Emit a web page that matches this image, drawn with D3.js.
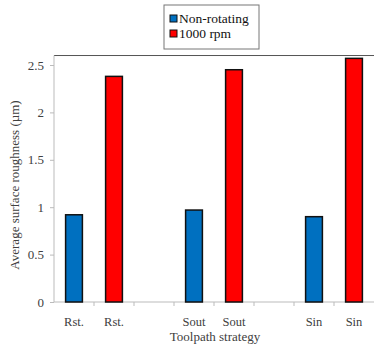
<!DOCTYPE html>
<html>
<head>
<meta charset="utf-8">
<script src="https://cdn.jsdelivr.net/npm/d3@7"></script>
<style>
  body { margin: 0; background: #fff; }
  svg text { font-family: "Liberation Serif", "DejaVu Serif", serif !important; fill: #404040; }
</style>
</head>
<body>
<div id="chart"></div>
<script>
// toolpath strategies and the two series
var strategies = ["Rst.", "Sout", "Sin"]
var nonRotating = [0.92, 0.97, 0.90]
var rpm1000 = [2.38, 2.45, 2.57]
var yTicks = [0, 0.5, 1, 1.5, 2, 2.5]
var seriesNames = ["Non-rotating", "1000 rpm"]
var colors = ["#0070C0", "#FF0000"]

var width = 374, height = 345
var margin = {top: 55, right: 0, bottom: 43, left: 54}
var serif = "'Liberation Serif', 'DejaVu Serif', serif"

var svg = d3.select("#chart").append("svg")
    .attr("width", width)
    .attr("height", height)
    .attr("font-family", serif)

// slots: blue, red, gap for each strategy (last gap dropped)
var slots = []
strategies.forEach(function(s, i) {
  slots.push({label: s, value: nonRotating[i], series: 0})
  slots.push({label: s, value: rpm1000[i], series: 1})
  if (i < strategies.length - 1) slots.push({label: "", value: null, series: -1})
})

var x = d3.scaleBand()
    .domain(d3.range(slots.length))
    .range([margin.left, width - margin.right])

var y = d3.scaleLinear()
    .domain([0, 2.6])
    .range([height - margin.bottom, 302 - 2.6 * 94.8])

// frame top line
svg.append("line")
    .attr("x1", margin.left).attr("x2", width)
    .attr("y1", y(2.6)).attr("y2", y(2.6))
    .attr("stroke", "#555").attr("stroke-width", 1)

// y axis
var yAxis = svg.append("g")
    .attr("transform", "translate(" + margin.left + ",0)")
    .call(d3.axisLeft(y).tickValues(yTicks).tickSize(4).tickPadding(6).tickFormat(d3.format("")))
yAxis.attr("font-family", serif).attr("font-size", 13)
yAxis.select(".domain").attr("stroke", "#bbb").attr("d", "M0," + y(0) + "V" + y(2.6))
yAxis.selectAll(".tick line").attr("stroke", "#bbb")
yAxis.selectAll("text").style("font-size", "13px").style("font-family", serif).attr("fill", "#404040")

// x axis with ticks at slot boundaries
var xg = svg.append("g")
    .attr("transform", "translate(0," + y(0) + ")")
xg.append("line")
    .attr("x1", margin.left).attr("x2", width)
    .attr("stroke", "#bbb")
xg.selectAll(".xt")
    .data(d3.range(1, slots.length))
    .enter().append("line")
    .attr("x1", function(d) { return x(d) }).attr("x2", function(d) { return x(d) })
    .attr("y1", 0).attr("y2", 4)
    .attr("stroke", "#bbb")
xg.selectAll(".xl")
    .data(slots)
    .enter().append("text")
    .attr("x", function(d, i) { return x(i) + x.bandwidth() / 2 })
    .attr("y", 24)
    .attr("text-anchor", "middle")
    .style("font-size", "12.5px")
    .text(function(d) { return d.label })

// bars
var barW = x.bandwidth() * 0.42
svg.selectAll(".bar")
    .data(slots.filter(function(d) { return d.value != null }))
    .enter().append("rect")
    .attr("x", function(d) { return x(slots.indexOf(d)) + (x.bandwidth() - barW) / 2 })
    .attr("y", function(d) { return y(d.value) })
    .attr("width", barW)
    .attr("height", function(d) { return y(0) - y(d.value) })
    .attr("fill", function(d) { return colors[d.series] })
    .attr("stroke", "#111")
    .attr("stroke-width", 1.5)

// axis titles
svg.append("text")
    .attr("x", (margin.left + width) / 2 + 1)
    .attr("y", 341)
    .attr("text-anchor", "middle")
    .style("font-size", "13px")
    .text("Toolpath strategy")

svg.append("text")
    .attr("transform", "translate(19," + 185 + ") rotate(-90)")
    .attr("text-anchor", "middle")
    .style("font-size", "13px")
    .text("Average surface roughness (µm)")

// legend
var lg = svg.append("g").attr("transform", "translate(164,5)")
lg.append("rect")
    .attr("width", 95).attr("height", 44)
    .attr("fill", "#fff").attr("stroke", "#777")
seriesNames.forEach(function(name, i) {
  lg.append("rect")
      .attr("x", 6).attr("y", 10 + i * 15)
      .attr("width", 7).attr("height", 7)
      .attr("fill", colors[i]).attr("stroke", "#111").attr("stroke-width", 1)
  lg.append("text")
      .attr("x", 15).attr("y", 18 + i * 15)
      .style("font-size", "13.5px")
      .style("fill", "#111")
      .text(name)
})
</script>
</body>
</html>
